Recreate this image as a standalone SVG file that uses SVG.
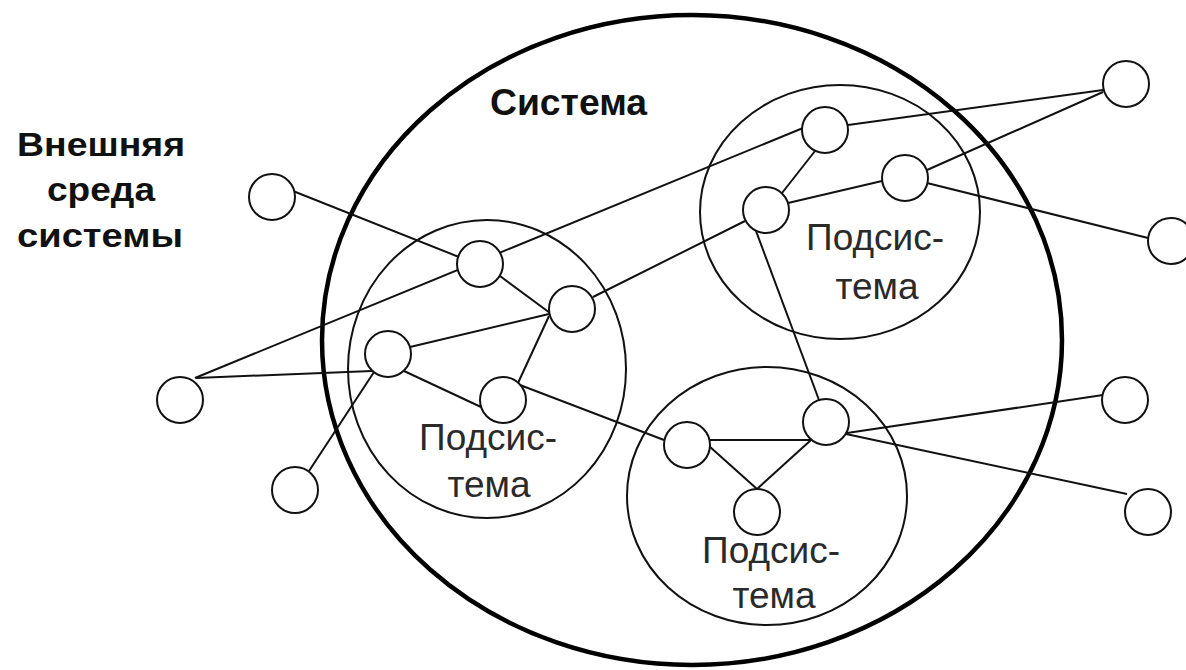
<svg xmlns="http://www.w3.org/2000/svg" width="1186" height="670" viewBox="0 0 1186 670">
<style>
.sys{fill:none;stroke:#000;stroke-width:4.5}
.sub{fill:none;stroke:#111;stroke-width:2}
.edge{fill:none;stroke:#111;stroke-width:2}
.node{fill:#fff;stroke:#111;stroke-width:2}
.bold{font-family:"Liberation Sans",Arial,sans-serif;font-weight:bold;fill:#111}
.lbl{font-family:"Liberation Sans",Arial,sans-serif;font-size:37px;fill:#2a2a2a;text-anchor:middle}
</style>
<rect width="1186" height="670" fill="#fff"/>
<g id="system">
<ellipse class="sys" cx="692" cy="340" rx="370" ry="325"/>
<text class="bold" x="490" y="115" font-size="36" textLength="157" lengthAdjust="spacingAndGlyphs">Система</text>
</g>
<g id="environment-label">
<text class="bold" x="17" y="156" font-size="34" textLength="168" lengthAdjust="spacingAndGlyphs">Внешняя</text>
<text class="bold" x="47" y="201" font-size="34" textLength="108" lengthAdjust="spacingAndGlyphs">среда</text>
<text class="bold" x="17" y="247" font-size="34" textLength="166" lengthAdjust="spacingAndGlyphs">системы</text>
</g>
<g id="subsystem1">
<ellipse class="sub" cx="487" cy="369" rx="139" ry="149"/>
</g>
<g id="subsystem2">
<ellipse class="sub" cx="840" cy="212" rx="140" ry="127"/>
</g>
<g id="subsystem3">
<ellipse class="sub" cx="767" cy="496" rx="140" ry="129"/>
</g>
<g id="connectors">
<line class="edge" x1="293" y1="191" x2="459" y2="257"/>
<line class="edge" x1="195" y1="378" x2="803" y2="128"/>
<line class="edge" x1="196" y1="378" x2="372" y2="371"/>
<line class="edge" x1="374" y1="372" x2="309" y2="471"/>
<line class="edge" x1="410" y1="347" x2="549" y2="314"/>
<line class="edge" x1="500" y1="276" x2="550" y2="313"/>
<line class="edge" x1="549" y1="316" x2="518" y2="383"/>
<line class="edge" x1="404" y1="371" x2="481" y2="407"/>
<line class="edge" x1="520" y1="385" x2="664" y2="440"/>
<line class="edge" x1="593" y1="297" x2="745" y2="221"/>
<line class="edge" x1="782" y1="193" x2="815" y2="151"/>
<line class="edge" x1="788" y1="203" x2="882" y2="181"/>
<line class="edge" x1="848" y1="125" x2="1103" y2="90"/>
<line class="edge" x1="927" y1="170" x2="1103" y2="92"/>
<line class="edge" x1="927" y1="183" x2="1148" y2="238"/>
<line class="edge" x1="756" y1="231" x2="819" y2="400"/>
<line class="edge" x1="709" y1="440" x2="812" y2="440"/>
<line class="edge" x1="709" y1="446" x2="757" y2="489"/>
<line class="edge" x1="811" y1="440" x2="757" y2="489"/>
<line class="edge" x1="847" y1="433" x2="1103" y2="395"/>
<line class="edge" x1="846" y1="434" x2="1127" y2="494"/>
</g>
<g id="nodes">
<g id="e1"><circle class="node" cx="272" cy="197" r="23"/></g>
<g id="e2"><circle class="node" cx="180" cy="400" r="23"/></g>
<g id="e3"><circle class="node" cx="295" cy="490" r="23"/></g>
<g id="e4"><circle class="node" cx="1126" cy="84" r="23"/></g>
<g id="e5"><circle class="node" cx="1171" cy="241" r="23"/></g>
<g id="e6"><circle class="node" cx="1125" cy="400" r="23"/></g>
<g id="e7"><circle class="node" cx="1148" cy="512" r="23"/></g>
<g id="a"><circle class="node" cx="480" cy="264" r="23"/></g>
<g id="b"><circle class="node" cx="572" cy="309" r="23"/></g>
<g id="c"><circle class="node" cx="388" cy="354" r="23"/></g>
<g id="d"><circle class="node" cx="503" cy="400" r="23"/></g>
<g id="f"><circle class="node" cx="825" cy="130" r="23"/></g>
<g id="g"><circle class="node" cx="905" cy="178" r="23"/></g>
<g id="h"><circle class="node" cx="766" cy="210" r="23"/></g>
<g id="i"><circle class="node" cx="687" cy="445" r="23"/></g>
<g id="j"><circle class="node" cx="826" cy="422" r="23"/></g>
<g id="k"><circle class="node" cx="757" cy="512" r="23"/></g>
</g>
<g id="subsystem-labels">
<text class="lbl" x="488" y="450">Подсис-</text>
<text class="lbl" x="489" y="497">тема</text>
<text class="lbl" x="875" y="250">Подсис-</text>
<text class="lbl" x="877" y="299">тема</text>
<text class="lbl" x="771" y="563">Подсис-</text>
<text class="lbl" x="774" y="608">тема</text>
</g>
</svg>
